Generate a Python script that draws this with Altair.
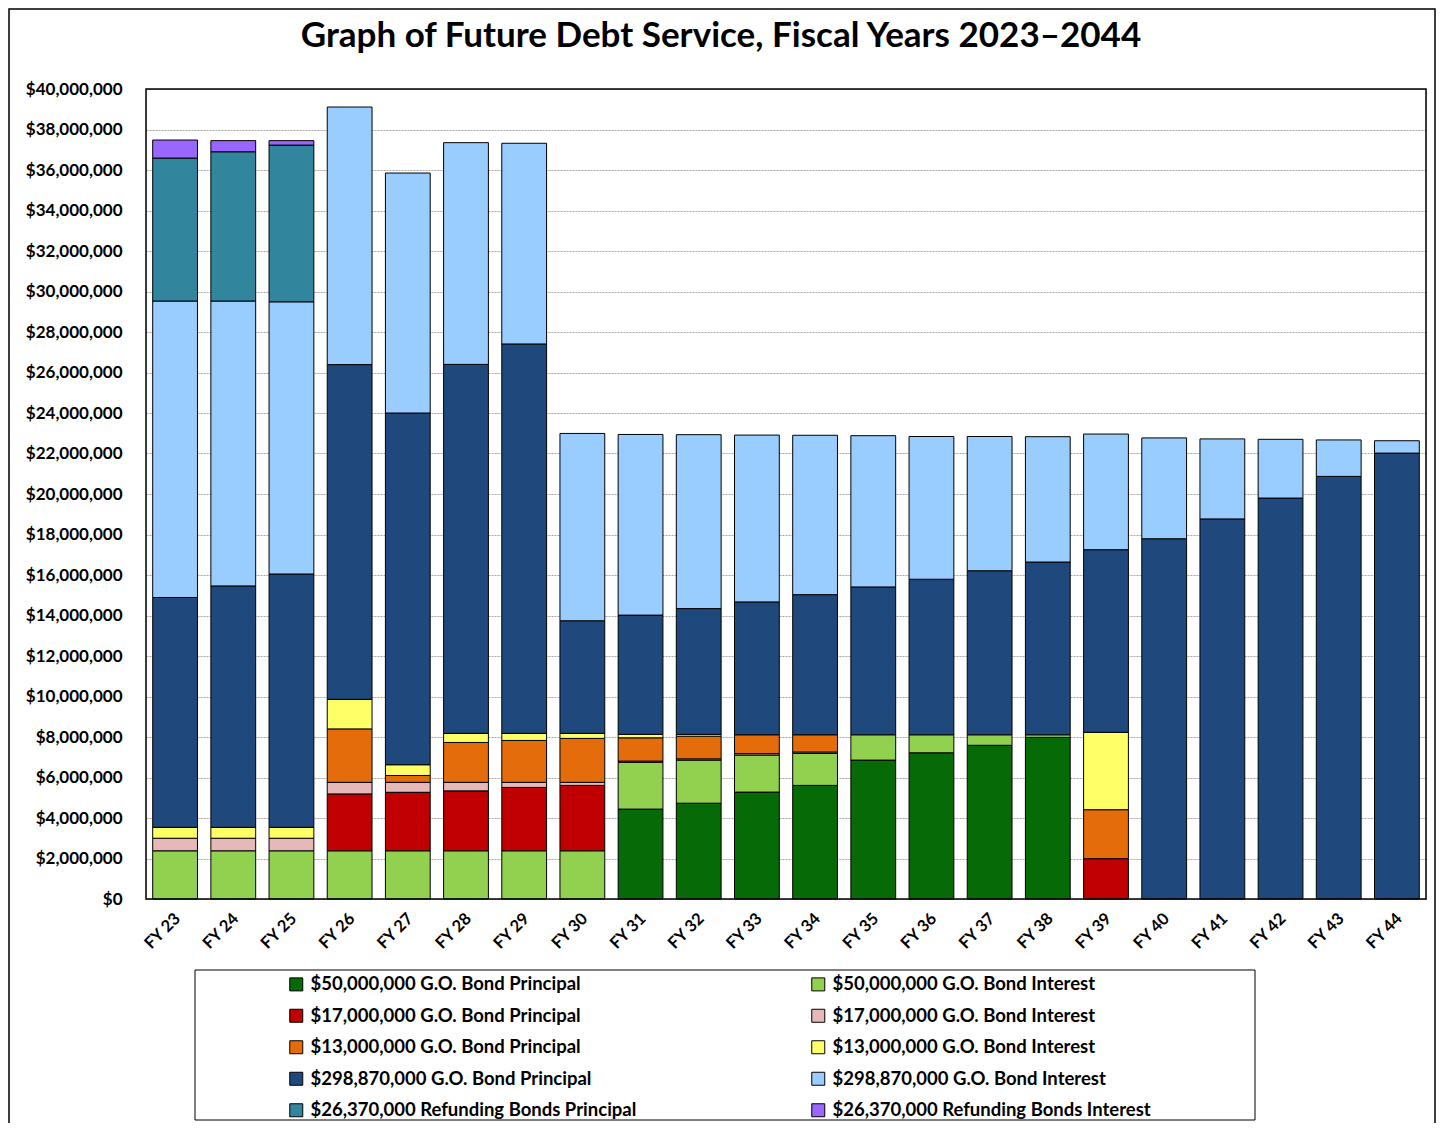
import altair as alt
import pandas as pd

# Fiscal years (x categories)
years = ["FY 23", "FY 24", "FY 25", "FY 26", "FY 27", "FY 28", "FY 29", "FY 30",
         "FY 31", "FY 32", "FY 33", "FY 34", "FY 35", "FY 36", "FY 37", "FY 38",
         "FY 39", "FY 40", "FY 41", "FY 42", "FY 43", "FY 44"]

# Series names (stack order bottom -> top, also legend order)
series_names = [
    "$50,000,000 G.O. Bond Principal",
    "$50,000,000 G.O. Bond Interest",
    "$17,000,000 G.O. Bond Principal",
    "$17,000,000 G.O. Bond Interest",
    "$13,000,000 G.O. Bond Principal",
    "$13,000,000 G.O. Bond Interest",
    "$298,870,000 G.O. Bond Principal",
    "$298,870,000 G.O. Bond Interest",
    "$26,370,000 Refunding Bonds Principal",
    "$26,370,000 Refunding Bonds Interest",
]

series_colors = ["#066A06", "#92D050", "#C00000", "#E6B9B8", "#E46C0A",
                 "#FFFF66", "#1F497D", "#99CCFF", "#31859C", "#9966FF"]

# Values in millions of dollars, one per fiscal year
p50 = [0, 0, 0, 0, 0, 0, 0, 0,
       4.44, 4.73, 5.28, 5.61, 6.86, 7.22, 7.59, 7.98,
       0, 0, 0, 0, 0, 0]
i50 = [2.38, 2.38, 2.38, 2.38, 2.38, 2.38, 2.38, 2.38,
       2.31, 2.13, 1.83, 1.58, 1.25, 0.89, 0.52, 0.13,
       0, 0, 0, 0, 0, 0]
p17 = [0, 0, 0, 2.81, 2.89, 2.96, 3.13, 3.23,
       0, 0, 0, 0, 0, 0, 0, 0,
       1.99, 0, 0, 0, 0, 0]
i17 = [0.62, 0.62, 0.62, 0.57, 0.49, 0.42, 0.25, 0.15,
       0.06, 0.06, 0.07, 0.07, 0, 0, 0, 0,
       0, 0, 0, 0, 0, 0]
p13 = [0, 0, 0, 2.64, 0.34, 1.97, 2.07, 2.17,
       1.15, 1.12, 0.93, 0.85, 0, 0, 0, 0,
       2.42, 0, 0, 0, 0, 0]
i13 = [0.54, 0.54, 0.54, 1.46, 0.53, 0.45, 0.35, 0.25,
       0.17, 0.09, 0, 0, 0, 0, 0, 0,
       3.82, 0, 0, 0, 0, 0]
p298 = [11.35, 11.92, 12.51, 16.53, 17.37, 18.22, 19.23, 5.56,
        5.89, 6.21, 6.56, 6.92, 7.30, 7.68, 8.10, 8.53,
        9.02, 17.79, 18.77, 19.80, 20.87, 22.02]
i298 = [14.64, 14.07, 13.44, 12.72, 11.85, 10.95, 9.91, 9.25,
        8.92, 8.59, 8.24, 7.87, 7.47, 7.05, 6.63, 6.19,
        5.71, 4.98, 3.95, 2.90, 1.80, 0.61]
pref = [7.06, 7.37, 7.74, 0, 0, 0, 0, 0,
        0, 0, 0, 0, 0, 0, 0, 0,
        0, 0, 0, 0, 0, 0]
iref = [0.89, 0.55, 0.22, 0, 0, 0, 0, 0,
        0, 0, 0, 0, 0, 0, 0, 0,
        0, 0, 0, 0, 0, 0]

series_values = [p50, i50, p17, i17, p13, i13, p298, i298, pref, iref]

y_ticks = list(range(0, 40_000_001, 2_000_000))

rows = []
for si, (name, vals) in enumerate(zip(series_names, series_values)):
    for yr, v in zip(years, vals):
        if v > 0:
            rows.append({"year": yr, "series": name, "order": si, "amount": v * 1_000_000})
df = pd.DataFrame(rows)

FONT = "Lato"
W, H = 1280, 810
PAD = {"left": 138, "top": 81, "right": 10, "bottom": 224}

bars = alt.Chart(df).mark_bar(stroke="black", strokeWidth=1).encode(
    x=alt.X("year:N", sort=years, title=None,
            scale=alt.Scale(paddingInner=0.23, paddingOuter=0.115),
            axis=alt.Axis(labelAngle=-45, labelFont=FONT, labelFontSize=16.5,
                          labelFontWeight="bold", labelColor="black",
                          ticks=False, domain=False, grid=False,
                          labelPadding=11, labelOffset=-3)),
    y=alt.Y("amount:Q", stack="zero", title=None,
            scale=alt.Scale(domain=[0, 40_000_000], nice=False),
            axis=alt.Axis(values=y_ticks, format="$,.0f", labelFont=FONT,
                          labelFontSize=17, labelFontWeight="bold", labelColor="black",
                          ticks=False, domain=False, labelPadding=24,
                          grid=True, gridColor="#a8a8a8", gridDash=[2, 1], gridWidth=1)),
    color=alt.Color("series:N",
                    scale=alt.Scale(domain=series_names, range=series_colors),
                    legend=alt.Legend(title=None, orient="none", legendX=141, legendY=886,
                                      columns=2, direction="horizontal",
                                      symbolType="square", symbolSize=169,
                                      symbolStrokeColor="black", symbolStrokeWidth=1,
                                      labelFont=FONT, labelFontSize=18.5,
                                      labelFontWeight="bold", labelColor="black",
                                      labelOffset=5, labelLimit=600, rowPadding=12.5,
                                      columnPadding=172, padding=0)),
    order=alt.Order("order:Q", sort="ascending"),
)

frame_df = pd.DataFrame({"k": [0]})
legend_box = alt.Chart(frame_df).mark_rect(filled=False, stroke="black", strokeWidth=1).encode(
    x=alt.value(49), x2=alt.value(1109), y=alt.value(881), y2=alt.value(1031))
outer_box = alt.Chart(frame_df).mark_rect(filled=False, stroke="black", strokeWidth=1.5).encode(
    x=alt.value(-137), x2=alt.value(1289), y=alt.value(-80), y2=alt.value(1060))
plot_box = alt.Chart(frame_df).mark_rect(filled=False, stroke="black", strokeWidth=1.5).encode(
    x=alt.value(0), x2=alt.value(W), y=alt.value(0), y2=alt.value(H))

chart = alt.layer(outer_box, bars, plot_box, legend_box).properties(
    width=W, height=H,
    title=alt.TitleParams("Graph of Future Debt Service, Fiscal Years 2023\u20132044",
                          font=FONT, fontSize=35, fontWeight="bold", color="black",
                          anchor="middle", baseline="bottom", offset=0, dy=81, dx=-65),
    autosize=alt.AutoSizeParams(type="none"),
    padding=PAD,
).configure_view(strokeWidth=0).configure(background="white")

chart.save("out.html", embed_options={"renderer": "svg", "actions": False})
